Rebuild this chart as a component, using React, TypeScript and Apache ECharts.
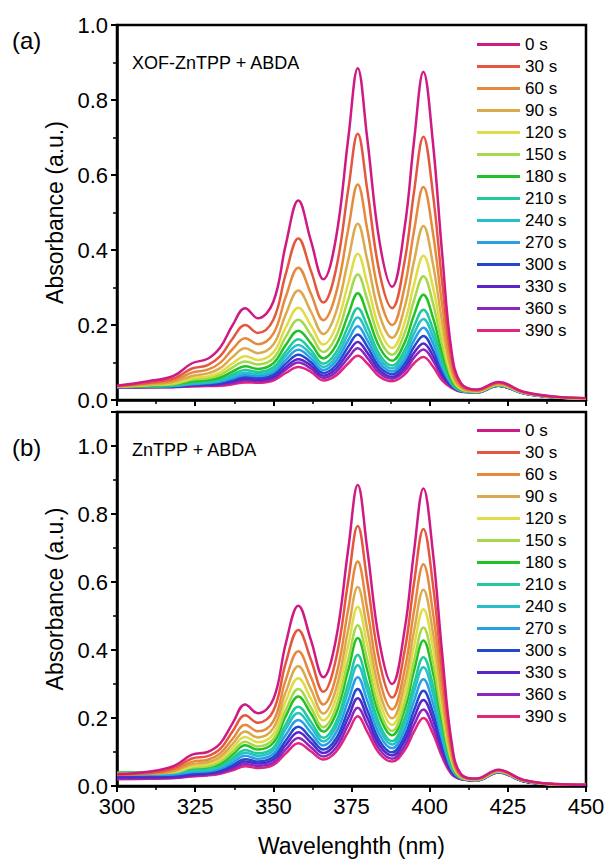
import React, { useEffect, useRef } from "react";
import * as echarts from "echarts";

const wavelengths = [300, 310, 318, 324, 329, 333, 337, 341, 345, 350, 354, 358, 362, 366, 370, 374, 377, 380, 384, 388, 392, 395, 398, 401, 404, 407, 410, 415, 422, 430, 440, 450];

const seriesNames = ["0 s", "30 s", "60 s", "90 s", "120 s", "150 s", "180 s", "210 s", "240 s", "270 s", "300 s", "330 s", "360 s", "390 s"];

const seriesColors = ["#cf1a84", "#e5563f", "#e6893d", "#dcaa4e", "#e0dc45", "#a6d84c", "#22c226", "#22c99c", "#26c1c8", "#2b9fe6", "#2448cc", "#5a24c8", "#8c26be", "#e2257f"];

// panel (a): XOF-ZnTPP + ABDA
const top0 = [0.038, 0.050, 0.064, 0.098, 0.110, 0.140, 0.200, 0.245, 0.218, 0.262, 0.415, 0.532, 0.425, 0.322, 0.430, 0.700, 0.885, 0.700, 0.420, 0.302, 0.460, 0.690, 0.875, 0.690, 0.390, 0.130, 0.045, 0.028, 0.048, 0.022, 0.009, 0.005];
const top30 = [0.037, 0.046, 0.057, 0.084, 0.093, 0.117, 0.164, 0.200, 0.179, 0.214, 0.337, 0.431, 0.345, 0.260, 0.347, 0.563, 0.710, 0.563, 0.338, 0.245, 0.371, 0.555, 0.702, 0.553, 0.313, 0.108, 0.040, 0.026, 0.046, 0.021, 0.009, 0.005];
const top60 = [0.036, 0.044, 0.052, 0.073, 0.081, 0.099, 0.136, 0.165, 0.149, 0.177, 0.276, 0.353, 0.284, 0.213, 0.283, 0.457, 0.575, 0.457, 0.275, 0.200, 0.302, 0.451, 0.568, 0.448, 0.253, 0.090, 0.036, 0.025, 0.044, 0.020, 0.008, 0.005];
const top90 = [0.036, 0.041, 0.048, 0.064, 0.071, 0.085, 0.115, 0.138, 0.125, 0.148, 0.229, 0.292, 0.236, 0.176, 0.233, 0.375, 0.470, 0.375, 0.226, 0.166, 0.248, 0.370, 0.464, 0.365, 0.207, 0.077, 0.033, 0.024, 0.043, 0.020, 0.008, 0.004];
const top120 = [0.035, 0.040, 0.045, 0.058, 0.063, 0.074, 0.098, 0.117, 0.107, 0.127, 0.194, 0.246, 0.199, 0.148, 0.195, 0.312, 0.390, 0.312, 0.189, 0.139, 0.207, 0.308, 0.385, 0.303, 0.172, 0.067, 0.030, 0.023, 0.042, 0.019, 0.008, 0.004];
const top150 = [0.035, 0.039, 0.042, 0.054, 0.058, 0.067, 0.087, 0.103, 0.095, 0.111, 0.169, 0.214, 0.174, 0.128, 0.168, 0.269, 0.335, 0.269, 0.163, 0.121, 0.179, 0.266, 0.330, 0.260, 0.148, 0.060, 0.029, 0.022, 0.041, 0.019, 0.008, 0.004];
const top180 = [0.035, 0.037, 0.041, 0.050, 0.053, 0.060, 0.076, 0.090, 0.083, 0.098, 0.147, 0.185, 0.151, 0.111, 0.145, 0.229, 0.285, 0.229, 0.140, 0.105, 0.153, 0.227, 0.281, 0.221, 0.126, 0.053, 0.027, 0.022, 0.040, 0.019, 0.007, 0.004];
const top210 = [0.035, 0.037, 0.039, 0.046, 0.049, 0.055, 0.068, 0.080, 0.075, 0.087, 0.129, 0.162, 0.133, 0.097, 0.126, 0.198, 0.245, 0.198, 0.121, 0.092, 0.133, 0.196, 0.241, 0.190, 0.108, 0.048, 0.026, 0.021, 0.040, 0.019, 0.007, 0.004];
const top240 = [0.035, 0.036, 0.038, 0.044, 0.047, 0.052, 0.063, 0.073, 0.069, 0.080, 0.118, 0.147, 0.122, 0.088, 0.114, 0.178, 0.220, 0.178, 0.110, 0.084, 0.120, 0.177, 0.216, 0.170, 0.097, 0.045, 0.025, 0.021, 0.039, 0.019, 0.007, 0.004];
const top270 = [0.034, 0.036, 0.037, 0.042, 0.045, 0.049, 0.058, 0.067, 0.064, 0.074, 0.107, 0.134, 0.111, 0.080, 0.103, 0.160, 0.197, 0.160, 0.099, 0.076, 0.108, 0.159, 0.193, 0.152, 0.087, 0.042, 0.024, 0.021, 0.039, 0.018, 0.007, 0.004];
const top300 = [0.034, 0.035, 0.036, 0.041, 0.042, 0.046, 0.054, 0.062, 0.059, 0.068, 0.097, 0.121, 0.101, 0.072, 0.092, 0.143, 0.175, 0.143, 0.088, 0.069, 0.097, 0.142, 0.171, 0.134, 0.077, 0.039, 0.024, 0.021, 0.039, 0.018, 0.007, 0.004];
const top330 = [0.034, 0.035, 0.035, 0.039, 0.041, 0.043, 0.050, 0.057, 0.054, 0.062, 0.088, 0.109, 0.092, 0.065, 0.083, 0.127, 0.155, 0.127, 0.079, 0.062, 0.087, 0.126, 0.151, 0.119, 0.068, 0.037, 0.023, 0.020, 0.038, 0.018, 0.007, 0.004];
const top360 = [0.034, 0.034, 0.035, 0.038, 0.039, 0.041, 0.046, 0.052, 0.050, 0.057, 0.081, 0.100, 0.084, 0.059, 0.074, 0.113, 0.138, 0.113, 0.071, 0.057, 0.078, 0.113, 0.135, 0.106, 0.061, 0.035, 0.023, 0.020, 0.038, 0.018, 0.007, 0.004];
const top390 = [0.034, 0.034, 0.034, 0.036, 0.037, 0.038, 0.042, 0.047, 0.046, 0.052, 0.072, 0.088, 0.075, 0.052, 0.065, 0.098, 0.118, 0.098, 0.062, 0.050, 0.068, 0.098, 0.115, 0.090, 0.052, 0.032, 0.022, 0.020, 0.038, 0.018, 0.007, 0.004];

// panel (b): ZnTPP + ABDA
const bot0 = [0.035, 0.042, 0.058, 0.092, 0.100, 0.125, 0.185, 0.240, 0.214, 0.255, 0.420, 0.530, 0.430, 0.320, 0.430, 0.700, 0.885, 0.700, 0.420, 0.300, 0.460, 0.690, 0.875, 0.690, 0.390, 0.130, 0.035, 0.022, 0.048, 0.018, 0.006, 0.004];
const bot30 = [0.034, 0.038, 0.052, 0.081, 0.088, 0.109, 0.161, 0.208, 0.186, 0.221, 0.363, 0.459, 0.372, 0.277, 0.372, 0.605, 0.765, 0.605, 0.363, 0.260, 0.398, 0.597, 0.756, 0.596, 0.336, 0.113, 0.032, 0.021, 0.047, 0.017, 0.006, 0.004];
const bot60 = [0.034, 0.036, 0.046, 0.071, 0.077, 0.096, 0.139, 0.180, 0.161, 0.191, 0.313, 0.396, 0.321, 0.240, 0.321, 0.522, 0.660, 0.522, 0.312, 0.225, 0.342, 0.515, 0.652, 0.513, 0.289, 0.099, 0.030, 0.020, 0.045, 0.017, 0.005, 0.004];
const bot90 = [0.035, 0.036, 0.043, 0.064, 0.070, 0.086, 0.124, 0.160, 0.143, 0.170, 0.277, 0.352, 0.285, 0.213, 0.284, 0.462, 0.585, 0.462, 0.277, 0.199, 0.303, 0.456, 0.577, 0.454, 0.255, 0.088, 0.028, 0.019, 0.044, 0.016, 0.005, 0.004];
const bot120 = [0.036, 0.037, 0.041, 0.058, 0.064, 0.078, 0.112, 0.144, 0.129, 0.153, 0.250, 0.317, 0.257, 0.193, 0.256, 0.416, 0.527, 0.416, 0.249, 0.180, 0.273, 0.411, 0.520, 0.409, 0.230, 0.080, 0.027, 0.019, 0.044, 0.016, 0.005, 0.004];
const bot150 = [0.037, 0.038, 0.040, 0.054, 0.058, 0.071, 0.101, 0.130, 0.116, 0.138, 0.224, 0.285, 0.231, 0.173, 0.230, 0.373, 0.473, 0.373, 0.223, 0.162, 0.245, 0.369, 0.466, 0.366, 0.205, 0.072, 0.026, 0.018, 0.043, 0.016, 0.005, 0.004];
const bot180 = [0.040, 0.040, 0.043, 0.053, 0.056, 0.066, 0.093, 0.120, 0.107, 0.127, 0.206, 0.263, 0.213, 0.160, 0.212, 0.342, 0.435, 0.342, 0.205, 0.149, 0.225, 0.339, 0.428, 0.336, 0.188, 0.067, 0.025, 0.018, 0.043, 0.015, 0.005, 0.004];
const bot210 = [0.038, 0.038, 0.040, 0.048, 0.050, 0.060, 0.083, 0.106, 0.096, 0.113, 0.182, 0.233, 0.189, 0.142, 0.187, 0.303, 0.385, 0.303, 0.181, 0.132, 0.199, 0.300, 0.379, 0.297, 0.166, 0.060, 0.024, 0.018, 0.042, 0.015, 0.005, 0.004];
const bot240 = [0.036, 0.036, 0.038, 0.045, 0.047, 0.056, 0.077, 0.098, 0.089, 0.105, 0.168, 0.215, 0.174, 0.131, 0.173, 0.280, 0.355, 0.280, 0.167, 0.122, 0.183, 0.277, 0.349, 0.273, 0.152, 0.056, 0.023, 0.017, 0.042, 0.015, 0.005, 0.004];
const bot270 = [0.033, 0.033, 0.034, 0.041, 0.043, 0.051, 0.069, 0.089, 0.080, 0.095, 0.151, 0.194, 0.157, 0.119, 0.156, 0.252, 0.320, 0.252, 0.150, 0.111, 0.165, 0.250, 0.314, 0.245, 0.137, 0.051, 0.023, 0.017, 0.041, 0.015, 0.005, 0.004];
const bot300 = [0.030, 0.030, 0.031, 0.037, 0.039, 0.047, 0.062, 0.079, 0.072, 0.085, 0.134, 0.174, 0.141, 0.107, 0.139, 0.224, 0.285, 0.224, 0.133, 0.099, 0.147, 0.223, 0.280, 0.218, 0.121, 0.046, 0.022, 0.017, 0.041, 0.014, 0.005, 0.004];
const bot330 = [0.026, 0.026, 0.027, 0.033, 0.036, 0.043, 0.057, 0.072, 0.066, 0.077, 0.121, 0.158, 0.128, 0.097, 0.126, 0.202, 0.258, 0.202, 0.120, 0.090, 0.133, 0.201, 0.253, 0.197, 0.109, 0.042, 0.021, 0.016, 0.041, 0.014, 0.005, 0.004];
const bot360 = [0.023, 0.023, 0.024, 0.030, 0.034, 0.039, 0.051, 0.065, 0.059, 0.069, 0.108, 0.141, 0.114, 0.087, 0.112, 0.181, 0.230, 0.181, 0.107, 0.080, 0.118, 0.180, 0.225, 0.175, 0.096, 0.039, 0.021, 0.016, 0.040, 0.014, 0.005, 0.004];
const bot390 = [0.020, 0.021, 0.023, 0.028, 0.031, 0.036, 0.046, 0.058, 0.053, 0.062, 0.096, 0.126, 0.102, 0.078, 0.100, 0.160, 0.205, 0.160, 0.095, 0.072, 0.105, 0.160, 0.200, 0.155, 0.085, 0.035, 0.020, 0.016, 0.040, 0.014, 0.005, 0.004];

const topSeries = [top0, top30, top60, top90, top120, top150, top180, top210, top240, top270, top300, top330, top360, top390];
const botSeries = [bot0, bot30, bot60, bot90, bot120, bot150, bot180, bot210, bot240, bot270, bot300, bot330, bot360, bot390];

const xTicks = { min: 300, max: 450, interval: 25 };
const FONT = "'Liberation Sans', Arial, sans-serif";

export default function App() {
  const ref = useRef<HTMLDivElement>(null);

  useEffect(() => {
    if (!ref.current) return;
    const chart = echarts.init(ref.current, null, { renderer: "svg" });

    const axisLine = { show: true, onZero: false, lineStyle: { color: "#000", width: 2.5 } };
    const axisTick = { show: true, inside: false, length: 6, lineStyle: { color: "#000", width: 2 } };
    const minorTick = { show: true, splitNumber: 2, length: 4, lineStyle: { color: "#000", width: 1.5 } };
    const labelStyle = { color: "#000", fontSize: 22, fontFamily: FONT };

    const makeX = (gridIndex: number, showLabel: boolean) => ({
      type: "value",
      gridIndex,
      min: xTicks.min,
      max: xTicks.max,
      interval: xTicks.interval,
      axisLine,
      axisTick,
      minorTick,
      splitLine: { show: false },
      axisLabel: { show: showLabel, ...labelStyle, margin: 9 },
      name: showLabel ? "Wavelenghth (nm)" : "",
      nameLocation: "middle",
      nameGap: 48,
      nameTextStyle: { color: "#000", fontSize: 23, fontFamily: FONT },
    });

    const makeY = (gridIndex: number, max: number) => ({
      type: "value",
      gridIndex,
      min: 0,
      max,
      interval: 0.2,
      axisLine,
      axisTick,
      minorTick,
      splitLine: { show: false },
      axisLabel: {
        ...labelStyle,
        margin: 9,
        formatter: (v: number) => (v > 1.05 ? "" : v.toFixed(1)),
      },
      name: "Absorbance (a.u.)",
      nameLocation: "middle",
      nameGap: 48,
      nameTextStyle: { color: "#000", fontSize: 23, fontFamily: FONT },
    });

    const makeSeries = (arrs: number[][], idx: number) =>
      arrs.map((arr, i) => ({
        type: "line",
        name: seriesNames[i],
        xAxisIndex: idx,
        yAxisIndex: idx,
        data: wavelengths.map((w, j) => [w, arr[j]]),
        smooth: 0.4,
        symbol: "none",
        color: seriesColors[i],
        lineStyle: { color: seriesColors[i], width: 2.5 },
        z: 2 + (13 - i) * 0.01,
      }));

    const makeLegend = (top: number) => ({
      orient: "vertical",
      left: 472,
      top,
      itemWidth: 43,
      itemHeight: 3,
      icon: "rect",
      itemGap: 5,
      selectedMode: false,
      data: seriesNames,
      textStyle: { color: "#000", fontSize: 17, fontFamily: FONT, lineHeight: 17 },
    });

    chart.setOption({
      animation: false,
      backgroundColor: "#fff",
      grid: [
        { left: 117, top: 25, width: 469, height: 375, show: true, borderColor: "#000", borderWidth: 2.5 },
        { left: 117, top: 412, width: 469, height: 374, show: true, borderColor: "#000", borderWidth: 2.5 },
      ],
      xAxis: [makeX(0, false), makeX(1, true)],
      yAxis: [makeY(0, 1.0), makeY(1, 1.1)],
      legend: [makeLegend(31), makeLegend(417)],
      series: [...makeSeries(topSeries, 0), ...makeSeries(botSeries, 1)],
      graphic: [
        { type: "text", left: 12, top: 28, style: { text: "(a)", fontSize: 24, fontFamily: FONT, fill: "#000" } },
        { type: "text", left: 12, top: 435, style: { text: "(b)", fontSize: 24, fontFamily: FONT, fill: "#000" } },
        { type: "text", left: 132, top: 54, style: { text: "XOF-ZnTPP + ABDA", fontSize: 18, fontFamily: FONT, fill: "#000" } },
        { type: "text", left: 132, top: 441, style: { text: "ZnTPP + ABDA", fontSize: 18, fontFamily: FONT, fill: "#000" } },
      ],
    });

    return () => chart.dispose();
  }, []);

  return (
    <div
      ref={ref}
      style={{ position: "fixed", left: 0, top: 0, width: 609, height: 861, background: "#fff" }}
    />
  );
}
